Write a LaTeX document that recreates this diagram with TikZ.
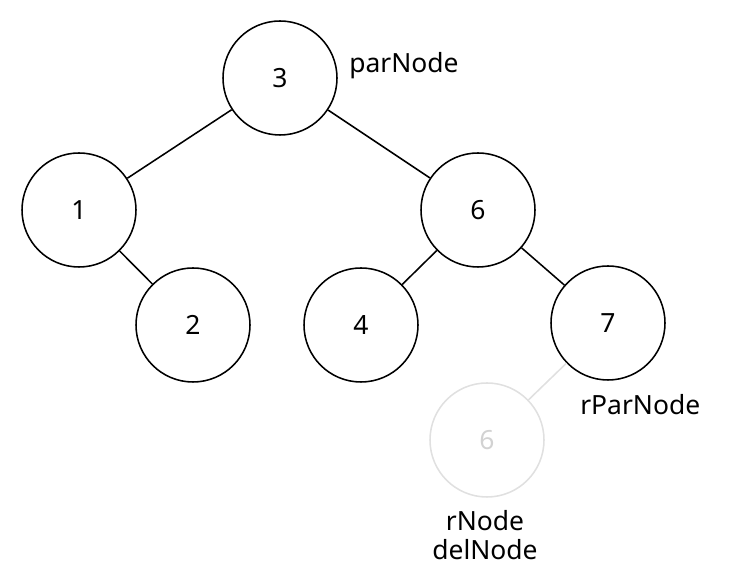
\documentclass[tikz,border=0pt]{standalone}
\usepackage{fontspec}
\setmainfont{Noto Sans}
\usepackage{tikz}
\usetikzlibrary{positioning}
\definecolor{ghost}{RGB}{224,224,224}
\definecolor{ghosttxt}{RGB}{210,210,210}

\begin{document}
\begin{tikzpicture}[font=\fontsize{18.8}{20.6}\selectfont,
  nd/.style={circle, draw=black, line width=1.1pt, minimum size=2.85cm, inner sep=0pt},
  delnd/.style={circle, draw=ghost, line width=1.1pt, minimum size=2.85cm, inner sep=0pt, text=ghosttxt},
  edge/.style={line width=1.1pt},
  tag/.style={inner sep=0pt}]
  \useasboundingbox (0,0) rectangle (18.35,14.525);
  % tree
  \node[nd] (n3) at (7.0,12.575) {3};
  \node[nd] (n1) at (1.975,9.275) {1};
  \node[nd] (n6) at (11.95,9.275) {6};
  \node[nd] (n2) at (4.825,6.4) {2};
  \node[nd] (n4) at (9.025,6.4) {4};
  \node[nd] (n7) at (15.2,6.45) {7};
  \draw[edge] (n3) -- (n1); \draw[edge] (n3) -- (n6);
  \draw[edge] (n1) -- (n2);
  \draw[edge] (n6) -- (n4); \draw[edge] (n6) -- (n7);

  % removed node
  \node[delnd] (d6) at (12.175,3.525) {6};
  \draw[edge, ghost] (n7) -- (d6);

  % labels
  \node[tag, anchor=west] (parlbl) at (8.725,12.875) {parNode};
  \node[tag, anchor=west] (rparlbl) at (14.5,4.4) {rParNode};
  \node[tag, align=center] (dellbl) at (12.125,1.15) {rNode\\delNode};
\end{tikzpicture}
\end{document}
